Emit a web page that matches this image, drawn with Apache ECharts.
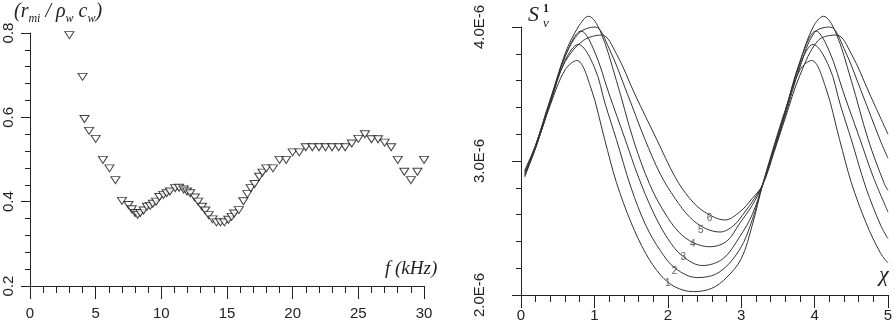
<!DOCTYPE html>
<html><head><meta charset="utf-8">
<script src="https://cdn.jsdelivr.net/npm/echarts@6/dist/echarts.min.js"></script>
<style>html,body{margin:0;padding:0;background:#fff}#c{width:895px;height:322px}</style>
</head><body><div id="c"></div>
<script>
// Left panel: frequency (kHz) and normalized ratio
const fKHz = [3.0, 4.0, 4.15, 4.5, 5.0, 5.55, 6.05, 6.5, 7.0, 7.5, 7.75, 8.0, 8.2, 8.4, 8.65, 8.9, 9.15, 9.35, 9.6, 9.85, 10.15, 10.4, 10.65, 11.05, 11.35, 11.7, 11.95, 12.2, 12.55, 12.8, 13.1, 13.35, 13.6, 13.9, 14.2, 14.5, 14.8, 15.1, 15.35, 15.55, 15.9, 16.25, 16.55, 16.8, 17.1, 17.45, 17.7, 18.0, 18.5, 19.0, 19.5, 20.0, 20.5, 21.0, 21.5, 22.0, 22.5, 23.0, 23.5, 24.0, 24.5, 25.0, 25.5, 26.0, 26.5, 27.0, 27.5, 28.0, 28.5, 29.0, 29.5, 30.0];
const ratio = [0.795, 0.696, 0.596, 0.568, 0.549, 0.499, 0.479, 0.451, 0.402, 0.392, 0.382, 0.373, 0.369, 0.373, 0.379, 0.388, 0.390, 0.395, 0.400, 0.411, 0.416, 0.420, 0.424, 0.432, 0.433, 0.429, 0.424, 0.420, 0.410, 0.400, 0.388, 0.379, 0.368, 0.358, 0.351, 0.351, 0.351, 0.357, 0.364, 0.372, 0.380, 0.401, 0.418, 0.432, 0.442, 0.459, 0.469, 0.479, 0.479, 0.499, 0.499, 0.517, 0.517, 0.529, 0.529, 0.529, 0.529, 0.529, 0.529, 0.529, 0.538, 0.549, 0.560, 0.548, 0.548, 0.540, 0.529, 0.499, 0.471, 0.451, 0.471, 0.499];

// Right panel: curves 1..6, [chi, S (units of 1E-6)]
const c1 = [[0.05,2.88],[0.2,3.1],[0.4,3.42],[0.6,3.68],[0.76,3.75],[0.95,3.55],[1.14,3.16],[1.3,2.84],[1.5,2.54],[1.7,2.31],[1.9,2.15],[2.1,2.06],[2.35,2.025],[2.6,2.05],[2.8,2.13],[3.0,2.27],[3.15,2.52],[3.29,2.82],[3.45,3.12],[3.6,3.38],[3.8,3.68],[3.96,3.75],[4.15,3.55],[4.34,3.16],[4.5,2.84],[4.7,2.54],[4.9,2.31],[5.0,2.24]];
const c2 = [[0.05,2.89],[0.2,3.1],[0.4,3.43],[0.6,3.75],[0.78,3.87],[1.0,3.7],[1.15,3.42],[1.3,3.16],[1.5,2.8],[1.7,2.52],[1.9,2.33],[2.1,2.2],[2.4,2.13],[2.7,2.17],[2.98,2.34],[3.15,2.56],[3.29,2.82],[3.45,3.1],[3.6,3.37],[3.8,3.72],[3.98,3.87],[4.2,3.7],[4.35,3.42],[4.5,3.16],[4.7,2.8],[4.9,2.52],[5.0,2.42]];
const c3 = [[0.05,2.9],[0.2,3.1],[0.4,3.44],[0.6,3.78],[0.82,3.97],[1.0,3.82],[1.2,3.5],[1.42,3.16],[1.6,2.88],[1.8,2.62],[2.0,2.42],[2.2,2.29],[2.47,2.22],[2.75,2.27],[2.98,2.435],[3.15,2.6],[3.29,2.82],[3.45,3.1],[3.6,3.37],[3.8,3.74],[4.02,3.97],[4.2,3.82],[4.4,3.5],[4.62,3.16],[4.8,2.88],[5.0,2.62]];
const c4 = [[0.05,2.91],[0.2,3.11],[0.4,3.45],[0.6,3.8],[0.78,4.0],[0.92,4.08],[1.08,3.97],[1.3,3.6],[1.53,3.16],[1.75,2.83],[1.95,2.62],[2.15,2.47],[2.35,2.39],[2.57,2.36],[2.8,2.4],[2.98,2.535],[3.15,2.67],[3.29,2.82],[3.45,3.09],[3.6,3.36],[3.8,3.74],[3.98,4.0],[4.12,4.08],[4.28,3.97],[4.5,3.6],[4.73,3.16],[4.95,2.83],[5.0,2.78]];
const c5 = [[0.05,2.92],[0.2,3.12],[0.4,3.46],[0.6,3.78],[0.8,3.96],[1.01,4.0],[1.2,3.84],[1.45,3.5],[1.69,3.16],[1.9,2.9],[2.1,2.72],[2.3,2.58],[2.5,2.5],[2.71,2.47],[2.9,2.52],[3.05,2.62],[3.18,2.72],[3.29,2.82],[3.45,3.08],[3.6,3.34],[3.8,3.7],[4.0,3.96],[4.21,4.0],[4.4,3.84],[4.65,3.5],[4.89,3.16],[5.0,3.02]];
const c6 = [[0.05,2.93],[0.2,3.12],[0.4,3.46],[0.6,3.74],[0.85,3.9],[1.1,3.94],[1.3,3.8],[1.55,3.5],[1.85,3.16],[2.1,2.88],[2.3,2.72],[2.5,2.62],[2.78,2.56],[2.98,2.62],[3.15,2.72],[3.29,2.82],[3.45,3.07],[3.6,3.32],[3.8,3.64],[4.05,3.9],[4.3,3.94],[4.5,3.8],[4.75,3.5],[5.0,3.2]];
const curveNames = ['1','2','3','4','5','6'];
const curveLabelAt = [[2.0,2.09],[2.09,2.18],[2.21,2.28],[2.34,2.38],[2.45,2.48],[2.57,2.57]];

const ink = '#222';
const tickFont = {fontFamily:'Liberation Sans', fontSize:15, color:ink};
const chart = echarts.init(document.getElementById('c'), null, {renderer:'canvas'});
const curves = [c1,c2,c3,c4,c5,c6];

function xAxisBase(grid, min, max, interval, margin) {
  return {type:'value', gridIndex:grid, min, max, interval,
    axisLine:{lineStyle:{color:ink, width:1}},
    axisTick:{length:13, lineStyle:{color:ink}},
    minorTick:{show:true, splitNumber:5, length:7, lineStyle:{color:ink}},
    splitLine:{show:false}, minorSplitLine:{show:false},
    axisLabel:Object.assign({margin:margin}, tickFont)};
}
function yAxisBase(grid, min, max, interval, fmt, margin) {
  return {type:'value', gridIndex:grid, min, max, interval,
    axisLine:{show:true, lineStyle:{color:ink, width:1}},
    axisTick:{show:true, length:9, lineStyle:{color:ink}},
    minorTick:{show:true, splitNumber:5, length:5, lineStyle:{color:ink}},
    splitLine:{show:false}, minorSplitLine:{show:false},
    axisLabel:Object.assign({rotate:90, margin:margin, formatter:fmt}, tickFont)};
}

const series = [{
  type:'scatter', xAxisIndex:0, yAxisIndex:0,
  data: fKHz.map((f,i)=>[f, ratio[i]]),
  symbol:'triangle', symbolRotate:180, symbolSize:[9,7],
  itemStyle:{color:'#fff', borderColor:'#111', borderWidth:1}
}];
curves.forEach((c,i)=>series.push({
  type:'line', xAxisIndex:1, yAxisIndex:1, data:c, smooth:0.35, showSymbol:false, clip:false,
  lineStyle:{color:'#333', width:1}, silent:true, name:curveNames[i]
}));
series.push({
  type:'scatter', xAxisIndex:1, yAxisIndex:1, symbolSize:0,
  data: curveLabelAt.map((p,i)=>({value:p, name:curveNames[i]})),
  label:{show:true, position:'inside', formatter:p=>p.name, fontFamily:'Liberation Sans', fontSize:10, color:'#333'}
});

chart.setOption({
  animation:false,
  grid:[{left:30, right:471, top:33, bottom:36, outerBoundsMode:'none', containLabel:false},
        {left:521, right:7, top:27, bottom:27, outerBoundsMode:'none', containLabel:false}],
  xAxis:[xAxisBase(0,0,30,5,20), xAxisBase(1,0,5,1,13)],
  yAxis:[yAxisBase(0,0.2,0.8,0.2, v=>v.toFixed(1), 14), yAxisBase(1,2,4,1, v=>v.toFixed(1)+'E-6', 34)],
  series,
  graphic:[
    {type:'text', left:14, top:2, style:{text:'{m|(r}{s|mi}{m| / ρ}{s|w}{m| c}{s|w}{m|)}', rich:{
      m:{fontFamily:'Liberation Serif', fontStyle:'italic', fontSize:20, lineHeight:25, verticalAlign:'middle', fill:ink},
      s:{fontFamily:'Liberation Serif', fontStyle:'italic', fontSize:12, lineHeight:25, verticalAlign:'bottom', fill:ink}}}},
    {type:'text', left:385, top:259, style:{text:'f (kHz)', fontFamily:'Liberation Serif', fontStyle:'italic', fontSize:19, fill:ink}},
    {type:'text', left:528, top:4, style:{text:'S', fontFamily:'Liberation Serif', fontStyle:'italic', fontSize:22, fill:ink}},
    {type:'text', left:543, top:3, style:{text:'1', fontFamily:'Liberation Serif', fontWeight:'bold', fontSize:12, fill:ink}},
    {type:'text', left:543, top:17, style:{text:'ν', fontFamily:'Liberation Serif', fontStyle:'italic', fontSize:13, fill:ink}},
    {type:'text', left:879, top:264, style:{text:'χ', fontFamily:'Liberation Serif', fontStyle:'italic', fontSize:22, fill:ink}}
  ]
});
</script></body></html>
